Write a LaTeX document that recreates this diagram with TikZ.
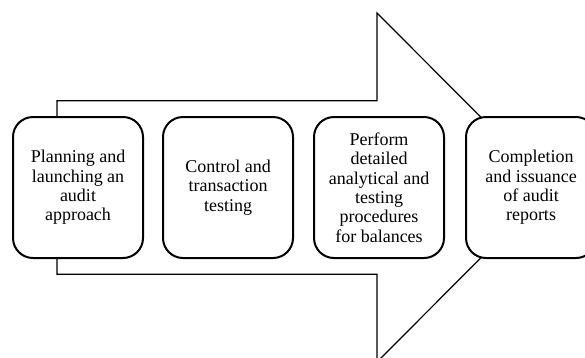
\documentclass[tikz,border=0pt]{standalone}
\usepackage{fontspec}
\setmainfont{Liberation Serif}
\begin{document}
\begin{tikzpicture}[x=1pt,y=-1pt,
  stage/.style={draw=black, line width=2pt, fill=white, rounded corners=20pt,
    minimum width=130pt, minimum height=141pt, align=center,
    inner sep=0pt, font=\fontsize{18}{19.3}\selectfont},
  flow/.style={draw=black, line width=1.2pt, fill=white, line join=miter}]
\useasboundingbox (0,0) rectangle (585,357);
\clip (0,0) rectangle (585,357);
% large block arrow behind the stages
\draw[flow] (57,100.7) -- (377,100.7) -- (377,13) -- (551,187.5)
  -- (377,362) -- (377,274.3) -- (57,274.3) -- cycle;
% process stages
\node[stage] (s1) at (78,187.5) {Planning and\\launching an\\audit\\approach};
\node[stage] (s2) at (228,187.5) {Control and\\transaction\\testing};
\node[stage] (s3) at (379,187.5) {Perform\\detailed\\analytical and\\testing\\procedures\\for balances};
\node[stage] (s4) at (531,187.5) {Completion\\and issuance\\of audit\\reports};
\end{tikzpicture}
\end{document}
